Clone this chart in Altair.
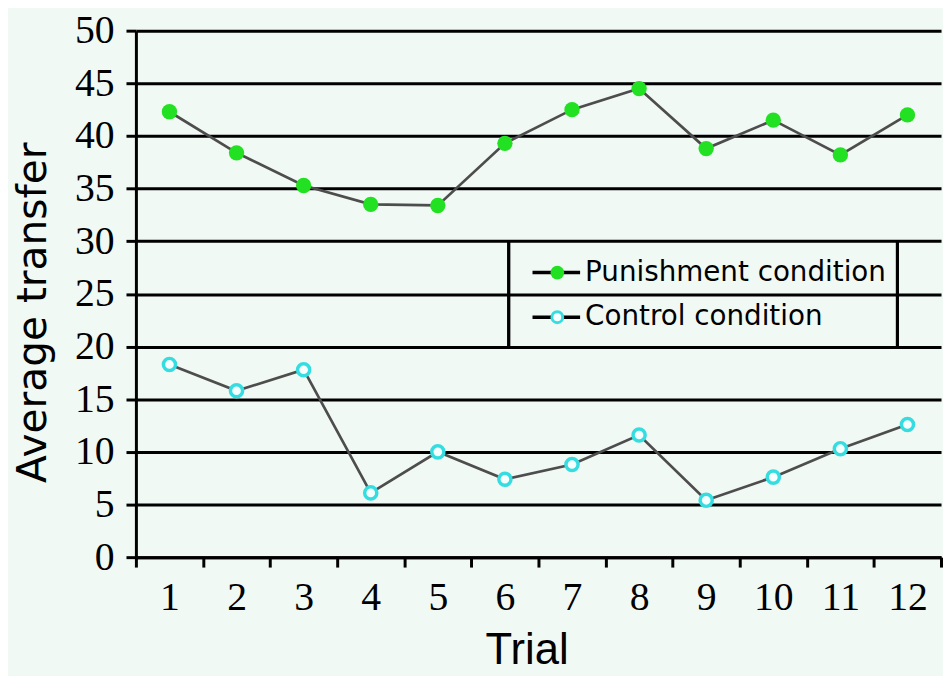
import altair as alt
import pandas as pd

trials = list(range(1, 13))
series_names = ["Punishment condition", "Control condition"]
punishment = [42.3, 38.4, 35.3, 33.5, 33.4, 39.3, 42.5, 44.5, 38.8, 41.5, 38.2, 42.0]
control = [18.3, 15.8, 17.8, 6.1, 10.0, 7.4, 8.8, 11.6, 5.4, 7.6, 10.3, 12.6]
y_ticks = list(range(0, 51, 5))

df = pd.DataFrame({
    "trial": trials * 2,
    "value": punishment + control,
    "series": [series_names[0]] * 12 + [series_names[1]] * 12,
})

BG = "#f1f9f4"
GREEN = "#22e022"
CYAN = "#35dde0"
LINE = "#4d4d4d"
H = 531

x_enc = alt.X(
    "trial:O",
    sort=trials,
    scale=alt.Scale(type="band", paddingInner=0, paddingOuter=0),
    axis=alt.Axis(
        tickBand="extent", labelAngle=0, grid=False,
        domainColor="black", domainWidth=3,
        tickColor="black", tickWidth=3, tickSize=10,
        labelFont="Liberation Serif", labelFontSize=40, labelColor="black",
        labelPadding=11,
        title="Trial", titleFont="Liberation Sans", titleFontSize=44,
        titleFontWeight="normal", titleColor="black",
        titleX=394, titleY=107, titleBaseline="alphabetic", titleAlign="center",
    ),
)
y_enc = alt.Y(
    "value:Q",
    scale=alt.Scale(domain=[0, 50], nice=False),
    axis=alt.Axis(
        values=y_ticks, grid=True, gridColor="black", gridWidth=3, gridOpacity=1,
        domainColor="black", domainWidth=3,
        tickColor="black", tickWidth=3, tickSize=10,
        labelFont="Liberation Serif", labelFontSize=40, labelColor="black",
        labelPadding=12,
        title="Average transfer", titleFont="DejaVu Sans", titleFontSize=41,
        titleFontWeight="normal", titleColor="black",
        titleAngle=-90, titleX=-91, titleY=284,
        titleBaseline="alphabetic", titleAlign="center",
    ),
)

base = alt.Chart(df)
lines = base.mark_line(color=LINE, strokeWidth=2.7).encode(
    x=x_enc, y=y_enc, detail="series:N"
)
p_pts = base.transform_filter(alt.datum.series == series_names[0]).mark_point(
    filled=True, color=GREEN, size=240, opacity=1
).encode(x=x_enc, y=y_enc)
c_pts = base.transform_filter(alt.datum.series == series_names[1]).mark_point(
    filled=False, stroke=CYAN, fill="#f4fffe", fillOpacity=1, strokeWidth=3.5,
    size=150, opacity=1
).encode(x=x_enc, y=y_enc)

# legend (manual)
leg_df = pd.DataFrame({"name": series_names})
leg_layers = []
box_left = alt.Chart(leg_df).mark_rule(color="black", strokeWidth=3).encode(
    x=alt.value(376), y=alt.value(212), y2=alt.value(318))
box_right = alt.Chart(leg_df).mark_rule(color="black", strokeWidth=3).encode(
    x=alt.value(768), y=alt.value(212), y2=alt.value(318))
leg_layers += [box_left, box_right]
for i, name in enumerate(series_names):
    yy = 244 + 45 * i
    sub = alt.Chart(leg_df).transform_filter(alt.datum.name == name)
    leg_layers.append(sub.mark_rule(color="black", strokeWidth=3.5).encode(
        x=alt.value(400), x2=alt.value(448), y=alt.value(yy)))
    if i == 0:
        leg_layers.append(sub.mark_point(filled=True, color=GREEN, size=190, opacity=1).encode(
            x=alt.value(425), y=alt.value(yy)))
    else:
        leg_layers.append(sub.mark_point(filled=False, stroke=CYAN, fill="#f4fffe",
                                         fillOpacity=1, strokeWidth=3, size=120, opacity=1).encode(
            x=alt.value(425), y=alt.value(yy)))
    leg_layers.append(sub.mark_text(align="left", baseline="middle", font="DejaVu Sans",
                                    fontSize=28, color="black").encode(
        text="name:N", x=alt.value(453), y=alt.value(yy)))

chart = alt.layer(lines, p_pts, c_pts, *leg_layers).properties(
    width=812, height=H, background=BG,
    autosize=alt.AutoSizeParams(type="none"),
    padding={"left": 129, "top": 20, "right": 2, "bottom": 117},
).configure_view(stroke=None)

chart.save("out.html", embed_options={"renderer": "svg", "actions": False})
